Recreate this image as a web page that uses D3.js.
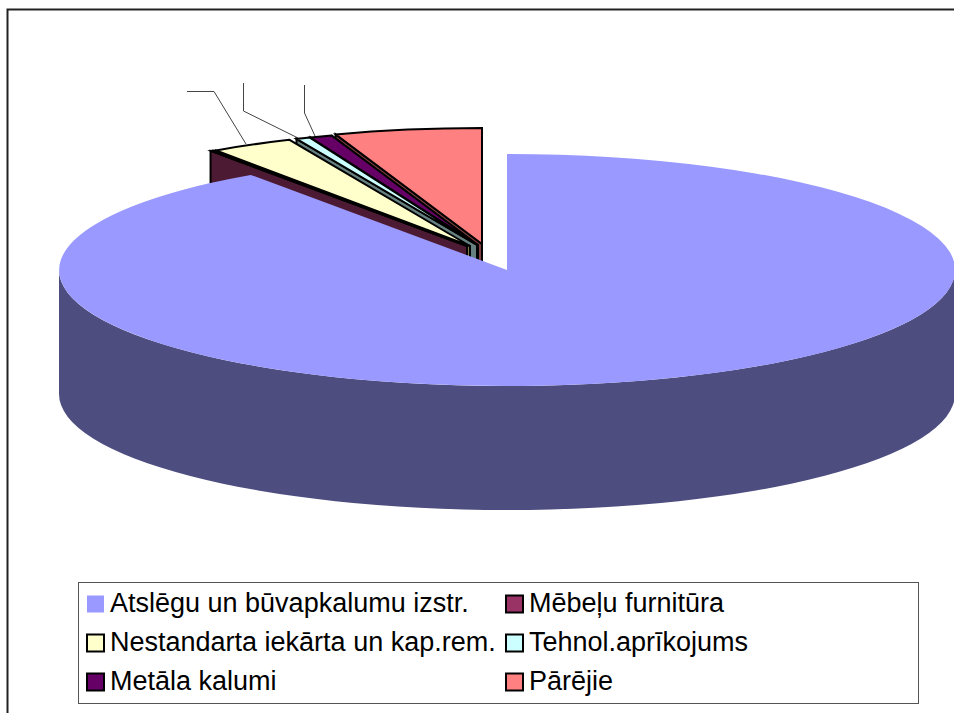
<!DOCTYPE html>
<html>
<head>
<meta charset="utf-8">
<script src="https://cdn.jsdelivr.net/npm/d3@7"></script>
<style>
    html, body { margin: 0; padding: 0; background: white; overflow: hidden; }
    text { font-family: "Liberation Sans", Arial, sans-serif; }
</style>
</head>
<body>
<div id="chart"></div>
<script>
let categories = ["Atslēgu un būvapkalumu izstr.", "Mēbeļu furnitūra", "Nestandarta iekārta un kap.rem.", "Tehnol.aprīkojums", "Metāla kalumi", "Pārējie"]
let shares = [90.3, 0.1, 3.0, 0.5, 0.8, 5.3]
let topColors = ["#9999ff", "#993366", "#ffffcc", "#ccffff", "#660066", "#ff8080"]
let wallColors = ["#4d4d80", "#4d1a33", "#80804d", "#668080", "#330033", "#804040"]

const width = 954, height = 713
const cx = 507, cy = 270, rx = 448, ry = 116, depth = 124

// how far each slice is pulled out of the pie
const explodeDx = [0, -40, -37, -30, -29, -25]
const explodeDy = [0, -24, -24, -25, -25, -26]

let svg = d3.select("#chart").append("svg")
    .attr("width", width)
    .attr("height", height)
    .style("display", "block")

// frame, only top and left sides are in the picture
svg.append("path")
    .attr("d", `M7.5,${height} V9.5 H${width}`)
    .attr("fill", "none")
    .attr("stroke", "#222")
    .attr("stroke-width", 2)

let slices = d3.pie().sort(null).value(d => d)(shares)
let arc = d3.arc().innerRadius(0).outerRadius(1)

// leader lines with empty labels, drawn first so the rim covers their ends
let leaders = [
    [[187, 91.5], [214, 91.5], [246, 144]],
    [[243.5, 83], [243.5, 111], [298, 138]],
    [[304.5, 85], [304.5, 113], [315, 136]]
]
svg.selectAll(".leader").data(leaders).enter().append("path")
    .attr("class", "leader")
    .attr("d", d3.line())
    .attr("fill", "none")
    .attr("stroke", "#444")
    .attr("stroke-width", 1)

// back to front: Pārējie first, Mēbeļu last
let exploded = slices.slice(1).reverse()
exploded.forEach(d => {
    let cX = cx + explodeDx[d.index], cY = cy + explodeDy[d.index]
    let p = d3.pointRadial(d.startAngle, 1)
    let rimX = cX + p[0] * rx, rimY = cY + p[1] * ry

    // cut face below the slice
    svg.append("path")
        .attr("d", `M${rimX},${rimY} L${cX},${cY} V${cY + depth} L${rimX},${rimY + depth} Z`)
        .attr("fill", wallColors[d.index])
        .attr("stroke", "black")
        .attr("stroke-width", 2)

    svg.append("path")
        .attr("d", arc(d))
        .attr("transform", `translate(${cX},${cY}) scale(${rx},${ry})`)
        .attr("fill", topColors[d.index])
        .attr("stroke", "black")
        .attr("stroke-width", 2)
        .attr("stroke-linejoin", "miter")
        .attr("vector-effect", "non-scaling-stroke")
})

// big slice, front wall then top
svg.append("path")
    .attr("d", `M${cx - rx},${cy} A${rx},${ry} 0 0 0 ${cx + rx},${cy} V${cy + depth} A${rx},${ry} 0 0 1 ${cx - rx},${cy + depth} Z`)
    .attr("fill", wallColors[0])

svg.append("path")
    .attr("d", arc(slices[0]))
    .attr("transform", `translate(${cx},${cy}) scale(${rx},${ry})`)
    .attr("fill", topColors[0])

// legend
let legend = svg.append("g")
legend.append("rect")
    .attr("x", 78.5)
    .attr("y", 582.5)
    .attr("width", 840)
    .attr("height", 121)
    .attr("fill", "white")
    .attr("stroke", "#555")
    .attr("stroke-width", 1)

let colX = d3.scaleOrdinal().domain([0, 1]).range([87, 506])
let rowY = d3.scaleOrdinal().domain([0, 1, 2]).range([604, 643, 682])

let items = legend.selectAll(".item").data(categories).enter().append("g")
    .attr("class", "item")
    .attr("transform", (d, i) => `translate(${colX(i % 2)},${rowY(Math.floor(i / 2))})`)

items.append("rect")
    .attr("x", 0)
    .attr("y", -8.5)
    .attr("width", 17)
    .attr("height", 17)
    .attr("fill", (d, i) => topColors[i])
    .attr("stroke", (d, i) => i === 0 ? "none" : "black")
    .attr("stroke-width", 2)

items.append("text")
    .attr("x", 23)
    .attr("y", 8)
    .attr("font-size", 27)
    .attr("fill", "black")
    .text(d => d)
</script>
</body>
</html>
